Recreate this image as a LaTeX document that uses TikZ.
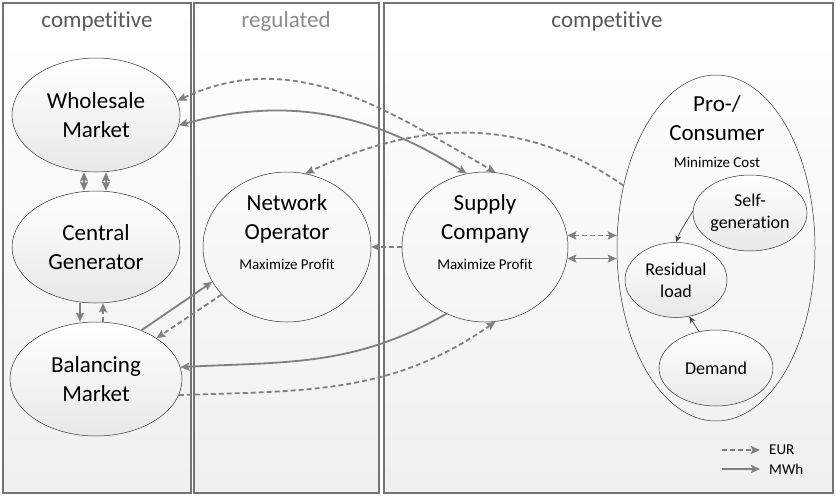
\documentclass[tikz,border=0pt]{standalone}
\usepackage{fontspec}
\setmainfont{Carlito}[Ligatures={NoCommon,NoRare}]
\usetikzlibrary{arrows.meta, positioning, shapes.geometric}

\begin{document}
\begin{tikzpicture} [
        x = 1pt, y = 1pt,
        >= {Stealth[length=9pt, width=8pt, inset=1.5pt]},
        panel/.style = {draw=black!55, line width=2pt, top color=white, bottom color=black!6},
        sector/.style = {font=\fontsize{23}{28}\selectfont, text=black!65},
        actor/.style = {ellipse, draw=black!80, line width=0.5pt, inner sep=0pt, align=center, font=\fontsize{23}{29}\selectfont},
        market/.style = {actor, top color=white, bottom color=black!9},
        part/.style = {actor, font=\fontsize{18}{22}\selectfont, top color=white, bottom color=black!9},
        actortext/.style = {align=center, font=\fontsize{23}{29}\selectfont},
        goal/.style = {font=\fontsize{15}{18}\selectfont},
        flow/.style = {draw=black!50, line width=1.8pt, ->},
        money/.style = {flow, dash pattern=on 5pt off 3pt},
        partflow/.style = {draw=black!75, line width=0.7pt, -{Stealth[length=7pt, width=6pt]}}
    ]

    \useasboundingbox (0,0) rectangle (836,-496);

    \path[panel] (2.5,-2.5) rectangle (190.5,-492.5);
    \path[panel] (194,-2.5) rectangle (379,-492.5);
    \path[panel] (384,-2.5) rectangle (832.5,-492.5);

    \node[sector] (comp1) at (97,-21) {competitive};
    \node[sector, text=black!45] (reg) at (286,-21) {regulated};
    \node[sector] (comp2) at (607,-21) {competitive};

    \node[market, minimum width=168pt, minimum height=114pt] (wm) at (96,-115) {Wholesale\\Market};
    \node[market, minimum width=168pt, minimum height=112pt] (cg) at (96,-247) {Central\\Generator};
    \node[market, minimum width=172pt, minimum height=114pt] (bm) at (96,-379) {Balancing\\Market};

    \node[actor, minimum width=168pt, minimum height=150pt] (no) at (287,-247) {};
    \node[actortext] (notxt) at (287,-219) {Network\\Operator};
    \node[goal] (nogoal) at (287,-264) {Maximize Profit};

    \node[actor, minimum width=166pt, minimum height=150pt] (sc) at (485,-247) {};
    \node[actortext] (sctxt) at (485,-219) {Supply\\Company};
    \node[goal] (scgoal) at (485,-264) {Maximize Profit};

    \node[actor, minimum width=198pt, minimum height=346pt] (pc) at (716,-248) {};
    \node[actortext] (pctxt) at (717,-118) {Pro-/\\Consumer};
    \node[goal] (pcgoal) at (717,-162) {Minimize Cost};

    \node[part, minimum width=114pt, minimum height=76pt] (sg) at (750,-213) {Self-\\generation};
    \node[part, minimum width=102pt, minimum height=75pt] (rl) at (676,-280) {Residual\\load};
    \node[part, minimum width=114pt, minimum height=76pt] (dm) at (716,-368) {Demand};

    \draw[money, <->] (wm.10) to[out=25, in=150] (sc.82);
    \draw[flow, <->] (wm.-7) to[out=15, in=148] (sc.104);
    \draw[money] (pc.146) to[out=145, in=25] (no.76);
    \draw[money] (sc.west) -- (no.east);
    \draw[money, <->] (sc.8) -- (sc.8 -| pc.west);
    \draw[flow, <->] (sc.-8) -- (sc.-8 -| pc.west);
    \draw[flow] (sc.240) to[out=210, in=3] (bm.8);
    \draw[money] (bm.-11) to[out=2, in=215] (sc.278);
    \draw[flow] (bm.47) -- (no.205);
    \draw[money] (no.216) -- (bm.34);
    \draw[flow, <->] ([xshift=-12pt]wm.south) -- ([xshift=-12pt]cg.north);
    \draw[money, <->] ([xshift=10pt]wm.south) -- ([xshift=10pt]cg.north);
    \draw[flow] ([xshift=-16pt]cg.south) -- ([xshift=-16pt]bm.north);
    \draw[money] ([xshift=7pt]bm.north) -- ([xshift=7pt]cg.south);

    \draw[partflow] (sg.178) to[out=240, in=70] (rl.north);
    \draw[partflow] (dm.115) -- (rl.-70);

    \node[goal, anchor=west, inner xsep=9pt] (eur) at (760,-450) {EUR};
    \node[goal, anchor=west, inner xsep=9pt] (mwh) at (760,-469) {MWh};
    \coordinate (eurstart) at (722,-450);
    \coordinate (mwhstart) at (722,-469);
    \draw[money] (eurstart) -- (eur.west);
    \draw[flow] (mwhstart) -- (mwh.west);

\end{tikzpicture}
\end{document}
